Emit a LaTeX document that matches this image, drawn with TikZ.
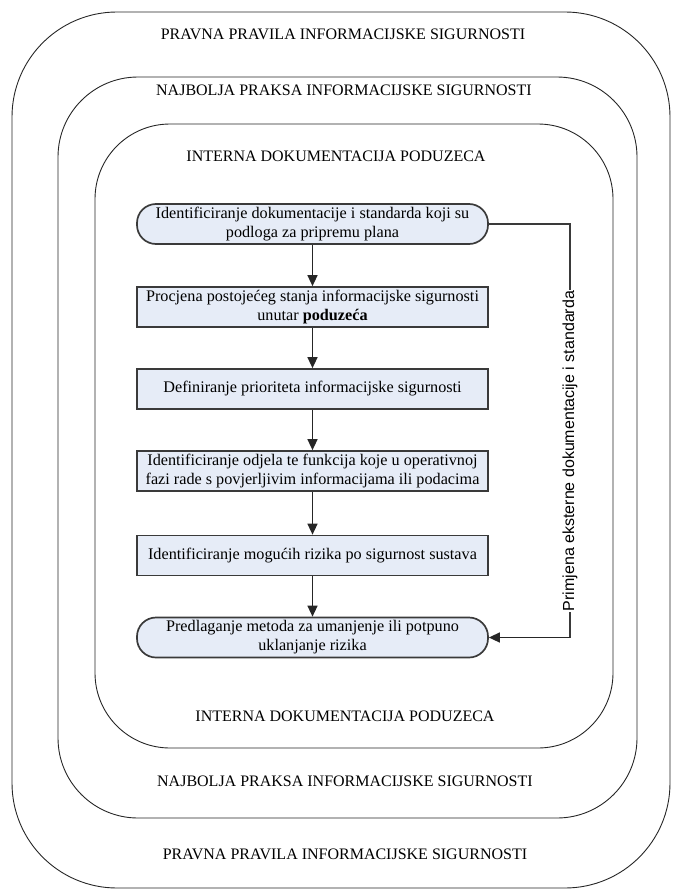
\documentclass[tikz,border=0pt]{standalone}
\usepackage{fontspec}
\setmainfont{Liberation Serif}
\setsansfont{Liberation Sans}
\usetikzlibrary{arrows.meta,positioning}
\definecolor{boxfill}{HTML}{E6ECF7}
\definecolor{boxline}{HTML}{3A3A3A}
\tikzset{
  layer/.style={draw=black!85, line width=0.9pt},
  layertext/.style={font=\fontsize{16}{18}\selectfont, inner sep=0pt},
  stepbox/.style={draw=boxline, line width=1.7pt, fill=boxfill, minimum width=351pt, minimum height=40pt, align=center, inner sep=1pt, font=\fontsize{16.2}{19}\selectfont},
  termbox/.style={stepbox, rounded corners=19pt},
  flow/.style={draw=black!85, line width=1.4pt, -{Triangle[width=10pt,length=11pt]}},
  side/.style={draw=boxline, line width=1.3pt}
}
\begin{document}
\begin{tikzpicture}[x=1pt,y=-1pt]
\useasboundingbox (0,0) rectangle (675,891);
% layers
\draw[layer, rounded corners=105pt] (12,12) rectangle (670,888);
\draw[layer, rounded corners=80pt] (58,77) rectangle (637,818);
\draw[layer, rounded corners=75pt] (95,124) rectangle (613,748);
\node[layertext] (t1) at (343,34) {PRAVNA PRAVILA INFORMACIJSKE SIGURNOSTI};
\node[layertext] (t2) at (344,90) {NAJBOLJA PRAKSA INFORMACIJSKE SIGURNOSTI};
\node[layertext] (t3) at (336,156) {INTERNA DOKUMENTACIJA PODUZECA};
\node[layertext] (b3) at (345,716) {INTERNA DOKUMENTACIJA PODUZECA};
\node[layertext] (b2) at (345,781) {NAJBOLJA PRAKSA INFORMACIJSKE SIGURNOSTI};
\node[layertext] (b1) at (345,854) {PRAVNA PRAVILA INFORMACIJSKE SIGURNOSTI};
% flow
\node[termbox] (s1) at (312.5,224) {Identificiranje dokumentacije i standarda koji su\\ podloga za pripremu plana};
\node[stepbox] (s2) at (312.5,307) {Procjena postojećeg stanja informacijske sigurnosti\\ unutar \textbf{poduzeća}};
\node[stepbox] (s3) at (312.5,389) {Definiranje prioriteta informacijske sigurnosti};
\node[stepbox] (s4) at (312.5,471) {Identificiranje odjela te funkcija koje u operativnoj\\ fazi rade s povjerljivim informacijama ili podacima};
\node[stepbox] (s5) at (312.5,555.5) {Identificiranje mogućih rizika po sigurnost sustava};
\node[termbox] (s6) at (312.5,637.5) {Predlaganje metoda za umanjenje ili potpuno\\ uklanjanje rizika};
\draw[flow] (s1) -- (s2);
\draw[flow] (s2) -- (s3);
\draw[flow] (s3) -- (s4);
\draw[flow] (s4) -- (s5);
\draw[flow] (s5) -- (s6);
\coordinate (c1) at (570,224);
\coordinate (c2) at (570,637.5);
\draw[side] (s1.east) -- (c1) -- (c2);
\draw[flow] (c2) -- (s6.east);
\node[fill=white, rotate=90, inner sep=1pt, font=\sffamily\fontsize{16}{18}\selectfont] (lbl) at (570,451) {Primjena eksterne dokumentacije i standarda};
\end{tikzpicture}
\end{document}
